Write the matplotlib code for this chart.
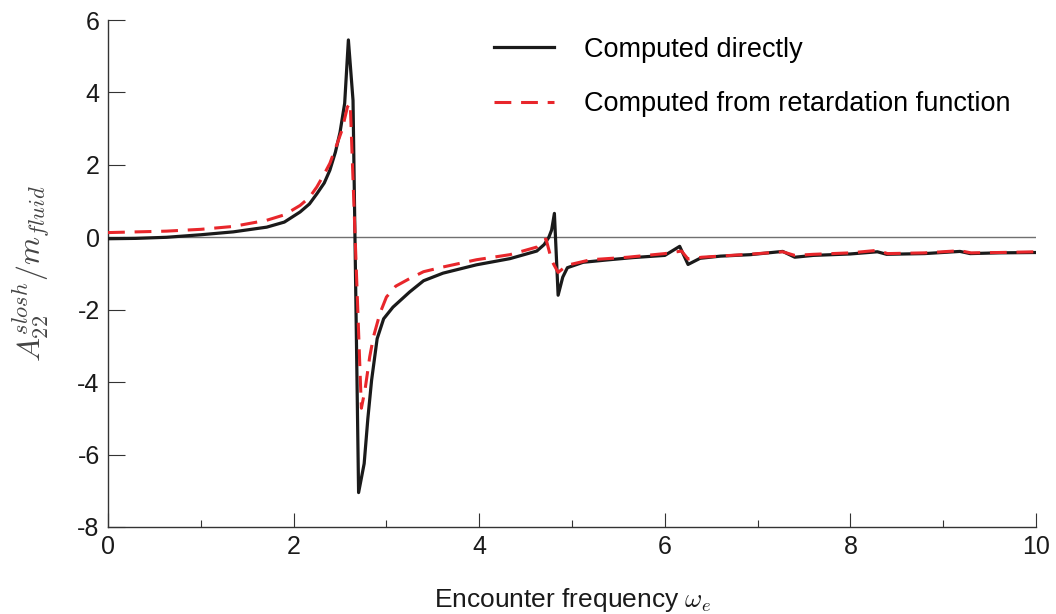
import numpy as np
import matplotlib
matplotlib.use("Agg")
import matplotlib.pyplot as plt

plt.rcParams['font.family'] = ['Liberation Sans', 'DejaVu Sans']
plt.rcParams['mathtext.fontset'] = 'cm'
plt.rcParams['axes.unicode_minus'] = False

# sloshing added mass, computed directly
omega_direct = [0, 0.3, 0.63, 1.0, 1.35, 1.71, 1.9, 2.07, 2.17, 2.25, 2.33, 2.39, 2.45,
                2.5, 2.55, 2.59, 2.64, 2.70, 2.76, 2.80, 2.84, 2.90, 2.97, 3.07, 3.25,
                3.4, 3.61, 3.97, 4.33, 4.62, 4.70, 4.75, 4.78, 4.81, 4.85, 4.9, 4.95,
                5.12, 5.4, 5.66, 6.0, 6.16, 6.25, 6.38, 6.6, 6.92, 7.27, 7.40, 7.6,
                8.0, 8.29, 8.39, 8.8, 9.18, 9.29, 9.6, 10.0]
a22_direct = [-0.04, -0.03, 0.0, 0.07, 0.15, 0.28, 0.42, 0.7, 0.92, 1.2, 1.5, 1.85, 2.35,
              2.9, 3.7, 5.45, 3.78, -7.05, -6.25, -5.0, -3.95, -2.8, -2.25, -1.93, -1.51,
              -1.2, -0.99, -0.76, -0.59, -0.38, -0.2, 0.0, 0.2, 0.66, -1.6, -1.1, -0.84,
              -0.69, -0.62, -0.56, -0.5, -0.25, -0.75, -0.58, -0.52, -0.48, -0.39, -0.55, -0.5,
              -0.46, -0.40, -0.47, -0.45, -0.39, -0.45, -0.43, -0.42]

# same quantity from the retardation function
omega_retard = [0, 0.63, 1.0, 1.35, 1.71, 1.9, 2.07, 2.17, 2.25, 2.33, 2.39, 2.45, 2.52,
                2.58, 2.61, 2.73, 2.77, 2.82, 2.86, 2.93, 3.0, 3.1, 3.25, 3.4, 3.61,
                3.97, 4.33, 4.62, 4.69, 4.72, 4.78, 4.85, 4.95, 5.2, 5.6, 6.0, 6.18,
                6.25, 6.4, 6.9, 7.27, 7.4, 7.6, 8.0, 8.29, 8.4, 8.8, 9.18, 9.3,
                9.6, 10.0]
a22_retard = [0.13, 0.17, 0.22, 0.30, 0.47, 0.62, 0.88, 1.1, 1.39, 1.75, 2.04, 2.45, 2.95,
              3.6, 3.7, -4.72, -4.2, -3.3, -2.75, -2.1, -1.65, -1.35, -1.14, -0.95, -0.82,
              -0.62, -0.48, -0.27, -0.08, -0.05, -0.64, -0.97, -0.77, -0.62, -0.55, -0.45, -0.38,
              -0.6, -0.55, -0.47, -0.4, -0.5, -0.47, -0.43, -0.36, -0.45, -0.43, -0.37, -0.43,
              -0.42, -0.4]

fig = plt.figure(figsize=(10.56, 6.14), dpi=100)
ax = fig.add_axes([0.1023, 0.1417, 0.8788, 0.8257])

ax.axhline(0, color='#707070', lw=1.0, zorder=1)
ax.plot(omega_direct, a22_direct, color='#1a1a1a', lw=2.3, label='Computed directly', zorder=3)
ax.plot(omega_retard, a22_retard, color='#e8262b', lw=2.2, dashes=(5.5, 3.2),
        label='Computed from retardation function', zorder=4)

ax.set_xlim(0, 10)
ax.set_ylim(-8, 6)
ax.set_xticks(np.arange(0, 11, 2))
ax.set_xticks(np.arange(1, 10, 2), minor=True)
ax.set_yticks(np.arange(-8, 7, 2))
for s in ['top', 'right']:
    ax.spines[s].set_visible(False)
for s in ['left', 'bottom']:
    ax.spines[s].set_color('#333333')
    ax.spines[s].set_linewidth(1.0)
ax.tick_params(which='major', direction='in', length=10, width=0.8, colors='#333333',
               labelsize=18, labelcolor='#1a1a1a', pad=6)
ax.tick_params(which='minor', direction='in', length=5, width=0.8, colors='#333333')
ax.tick_params(axis='y', which='major', length=12)

ax.set_xlabel(r'Encounter frequency $\omega_e$', fontsize=19, color='#1a1a1a', labelpad=19)
ax.set_ylabel(r'$A_{22}^{slosh}/m_{fluid}$', fontsize=23, color='#444444', labelpad=18)

ax.legend(loc='upper left', bbox_to_anchor=(0.39, 1.015), frameon=False, fontsize=19.5,
          handlelength=2.2, handletextpad=1.1, labelspacing=1.05)

fig.savefig('out.png', dpi=100)
